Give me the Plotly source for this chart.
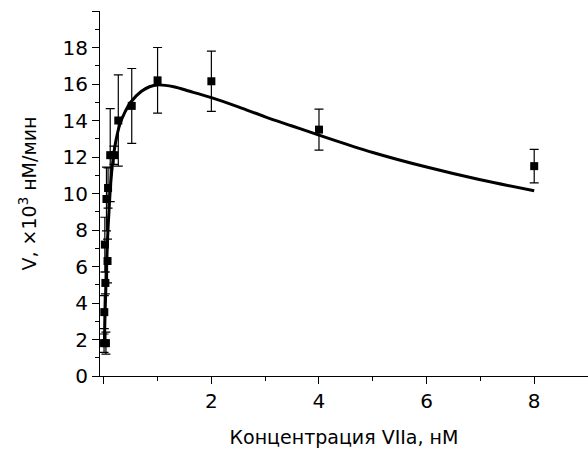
import plotly.graph_objects as go

# Measured initial rates (×10^3 nM/min) vs. factor VIIa concentration (nM)
conc = [0.005, 0.04, 0.01, 0.03, 0.02, 0.07, 0.05, 0.08, 0.12, 0.19, 0.27, 0.52, 1.0, 2.0, 4.0, 8.0]
rate = [1.8, 1.8, 3.5, 5.1, 7.2, 6.3, 9.7, 10.3, 12.1, 12.1, 14.0, 14.8, 16.2, 16.15, 13.5, 11.5]
rate_err = [0.5, 0.6, 0.9, 0.6, 1.5, 1.2, 1.75, 1.1, 2.55, 0.5, 2.5, 2.05, 1.8, 1.65, 1.12, 0.92]

# Fitted curve (substrate-inhibition shape)
fit_conc = [0.01, 0.02, 0.03, 0.05, 0.07, 0.1, 0.13, 0.17, 0.22, 0.3, 0.4, 0.5, 0.7,
            0.85, 1.0, 1.3, 1.6, 2.0, 2.5, 3.0, 3.5, 4.0, 5.0, 6.0, 7.0, 8.0]
fit_rate = [1.6, 2.9, 4.0, 5.9, 7.5, 9.2, 10.6, 11.8, 12.8, 13.8, 14.5, 15.0, 15.6,
            15.85, 15.95, 15.85, 15.6, 15.25, 14.75, 14.2, 13.7, 13.2, 12.25, 11.45, 10.75, 10.15]

# Labelled major ticks; unlabelled major ticks sit at x=0 and y=20
x_ticks = [2, 4, 6, 8]
y_ticks = [0, 2, 4, 6, 8, 10, 12, 14, 16, 18]
x_bare_ticks = [0]
y_bare_ticks = [20]
x_range = [-0.07, 9.0]
y_range = [0, 20]

font_family = "DejaVu Sans, Liberation Sans, Arial, sans-serif"
tick_style = dict(ticks="outside", ticklen=7, tickwidth=1.2, tickcolor="black")
minor_style = dict(tick0=0, dtick=1, ticks="outside", ticklen=4, tickwidth=1.2, tickcolor="black")

fig = go.Figure()

fig.add_trace(go.Scatter(
    x=fit_conc, y=fit_rate, mode="lines", line_shape="spline",
    line=dict(color="black", width=3),
    showlegend=False, hoverinfo="skip",
))

fig.add_trace(go.Scatter(
    x=conc, y=rate, mode="markers",
    marker=dict(symbol="square", size=8, color="black"),
    error_y=dict(type="data", array=rate_err, color="black", thickness=1.2, width=4.5),
    showlegend=False,
))

# Empty trace so the overlay axes carrying the unlabelled ticks get drawn
fig.add_trace(go.Scatter(
    x=[None], y=[None], xaxis="x2", yaxis="y2", mode="markers",
    showlegend=False, hoverinfo="skip",
))

fig.update_layout(
    width=588, height=452,
    margin=dict(l=100, r=0, t=11, b=76),
    paper_bgcolor="white", plot_bgcolor="white",
    font=dict(family=font_family, size=20, color="black"),
    xaxis=dict(
        range=x_range, showgrid=False, zeroline=False,
        showline=True, linecolor="black", linewidth=1.2,
        tickvals=x_ticks, minor=minor_style, **tick_style,
        title=dict(text="Концентрация VIIa, нМ", font=dict(size=19), standoff=18),
    ),
    yaxis=dict(
        range=y_range, showgrid=False, zeroline=False,
        showline=True, linecolor="black", linewidth=1.2,
        tickvals=y_ticks, minor=minor_style, **tick_style,
        title=dict(text="V, ×10<sup>3</sup> нМ/мин", font=dict(size=19), standoff=20),
    ),
    xaxis2=dict(
        overlaying="x", anchor="y2", side="bottom", range=x_range,
        showgrid=False, zeroline=False, showline=False, showticklabels=False,
        tickvals=x_bare_ticks, **tick_style,
    ),
    yaxis2=dict(
        overlaying="y", anchor="x2", side="left", range=y_range,
        showgrid=False, zeroline=False, showline=False, showticklabels=False,
        tickvals=y_bare_ticks, **tick_style,
    ),
)

fig.write_html("out.html")
